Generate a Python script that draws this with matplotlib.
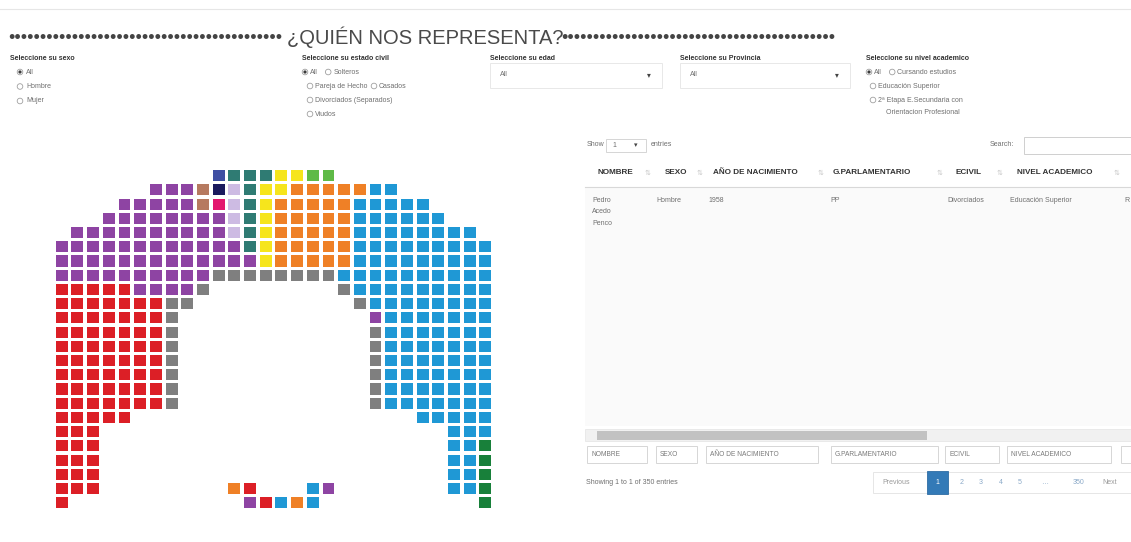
import matplotlib
matplotlib.use("Agg")
import matplotlib.pyplot as plt
from matplotlib.patches import Rectangle, Circle

plt.rcParams['font.family'] = ['Liberation Sans', 'DejaVu Sans']

# seat map of the chamber, one string per row, one char per seat ('.' = no seat)
seat_rows = [
    "..........ITTTYYGG..........",
    "......PPPMNLTYYOOOOOBB......",
    "....PPPPPMKLTYOOOOOBBBBB....",
    "...PPPPPPPPLTYOOOOOBBBBBB...",
    ".PPPPPPPPPPLTYOOOOOBBBBBBBB.",
    "PPPPPPPPPPPPTYOOOOOBBBBBBBBB",
    "PPPPPPPPPPPPPYOOOOOBBBBBBBBB",
    "PPPPPPPPPPXXXXXXXXBBBBBBBBBB",
    "RRRRRPPPPX........XBBBBBBBBB",
    "RRRRRRRXX..........XBBBBBBBB",
    "RRRRRRRX............PBBBBBBB",
    "RRRRRRRX............XBBBBBBB",
    "RRRRRRRX............XBBBBBBB",
    "RRRRRRRX............XBBBBBBB",
    "RRRRRRRX............XBBBBBBB",
    "RRRRRRRX............XBBBBBBB",
    "RRRRRRRX............XBBBBBBB",
    "RRRRR..................BBBBB",
    "RRR......................BBB",
    "RRR......................BBV",
    "RRR......................BBV",
    "RRR......................BBV",
    "RRR........OR...BP.......BBV",
    "R...........PRBOB..........V",
]

party_colors = {
    'B': '#1f98d5',  # PP
    'R': '#dc1f26',  # PSOE
    'P': '#8e44a3',  # Podemos
    'L': '#cdbbe3',
    'M': '#b67a60',
    'O': '#ef8026',  # Cs
    'Y': '#f6e51c',  # ERC
    'T': '#2f7b73',  # CDC
    'G': '#5fba47',
    'V': '#18803a',  # PNV
    'N': '#1b1a5e',
    'K': '#e3176e',
    'I': '#3f4fa3',
    'X': '#7f7f7f',
}

title = "¿QUIÉN NOS REPRESENTA?"
sexo_opts = ["All", "Hombre", "Mujer"]
civil_opts = [["All", "Solteros"], ["Pareja de Hecho", "Casados"],
              ["Divorciados (Separados)"], ["Viudos"]]
nivel_opts = [["All", "Cursando estudios"], ["Educación Superior"],
              ["2ª Etapa E.Secundaria con"]]
headers = ["NOMBRE", "SEXO", "AÑO DE NACIMIENTO", "G.PARLAMENTARIO", "ECIVIL", "NIVEL ACADEMICO"]
header_x = [597, 665, 713, 833, 955, 1017]
sort_x = [645, 697, 818, 937, 997, 1114]
row_values = ["Pedro\nAcedo\nPenco", "Hombre", "1958", "PP", "Divorciados", "Educación Superior", "R"]
row_x = [592, 656, 708, 830, 947, 1010, 1124]
pages = ["2", "3", "4", "5", "…", "350"]
page_x = [962, 981, 1001, 1020, 1045, 1079]

W, H = 1131, 542
fig = plt.figure(figsize=(W / 100, H / 100), dpi=100)
ui = fig.add_axes([0, 0, 1, 1])
ui.set_xlim(0, W)
ui.set_ylim(H, 0)
ui.axis('off')

DARK = '#333333'
GREY = '#6f6f6f'


def txt(x, y, s, size=5.0, color=GREY, weight='normal', ha='left', **kw):
    ui.text(x, y, s, fontsize=size, color=color, fontweight=weight,
            ha=ha, va='center', **kw)


def radio(x, y, on=False):
    ui.add_patch(Circle((x, y), 2.8, fc='white', ec='#a0a0a0', lw=0.6))
    if on:
        ui.add_patch(Circle((x, y), 1.6, fc='#3a3a3a', ec='none'))


def box(x0, y0, w, h, ec='#dcdcdc', fc='white', lw=0.7):
    ui.add_patch(Rectangle((x0, y0), w, h, fc=fc, ec=ec, lw=lw))


# top rule + title
ui.plot([0, W], [9, 9], color='#e6e6e6', lw=0.8)
txt(425, 37, title, size=14.5, color='#4a4a4a', ha='center')
txt(282, 38.5, "•" * 43, size=13, color='#444444', ha='right')
txt(561, 38.5, "•" * 43, size=13, color='#444444', ha='left')

# filters
for x, s in [(10, "Seleccione su sexo"), (302, "Seleccione su estado civil"),
             (490, "Seleccione su edad"), (680, "Seleccione su Provincia"),
             (866, "Seleccione su nivel academico")]:
    txt(x, 58, s, size=5.0, color=DARK, weight='bold')

for i, s in enumerate(sexo_opts):
    y = 72 + 14.5 * i
    radio(20, y, on=(i == 0))
    txt(26, y, s)


def radio_block(x0, opts, indent):
    for i, row in enumerate(opts):
        y = 72 + 14 * i
        x = x0 if i == 0 else x0 + indent
        for j, s in enumerate(row):
            radio(x, y, on=(i == 0 and j == 0))
            txt(x + 5, y, s)
            x += 5 + len(s) * 3.4 + 8


radio_block(305, civil_opts, 5)
radio_block(869, nivel_opts, 4)
txt(886, 113, "Orientacion Profesional")

for x0, w in [(490, 172), (680, 170)]:
    box(x0, 63, w, 25, ec='#e8e8e8')
    txt(x0 + 10, 75, "All")
    txt(x0 + w - 13, 76, "▾", size=5.5, color='#444444', ha='center')

# table controls
txt(587, 145, "Show")
box(606, 139, 40, 13, ec='#d5d5d5')
txt(612, 145.5, "1")
txt(636, 145.5, "▾", size=5, color='#444444', ha='center')
txt(651, 145, "entries")
txt(990, 145, "Search:")
box(1024, 137, 120, 17, ec='#cfcfcf')

# header
for x, xs, s in zip(header_x, sort_x, headers):
    txt(x, 173, s, size=5.9, color=DARK, weight='bold')
    ui.text(xs, 173, "⇅", fontsize=5, color='#c8c8c8',
            ha='left', va='center', family='DejaVu Sans')
ui.plot([585, W], [187, 187], color='#d8d8d8', lw=0.8)
ui.add_patch(Rectangle((585, 188), W - 585, 238, fc='#fafafa', ec='none'))
for x, s in zip(row_x, row_values):
    ui.text(x, 196.5, s, fontsize=5.0, color=GREY, ha='left', va='top',
            linespacing=1.95)

# scrollbar
ui.add_patch(Rectangle((585, 429), W - 585, 12, fc='#f1f1f1', ec='#e4e4e4', lw=0.5))
ui.add_patch(Rectangle((597, 430.5), 330, 9, fc='#c2c2c2', ec='none'))

# footer search inputs
for (x0, x1), s in zip([(587, 647), (656, 697), (706, 818), (831, 938), (945, 999), (1007, 1111)],
                       headers):
    box(x0, 446, x1 - x0, 17, ec='#d6d6d6')
    txt(x0 + 4, 454.5, s, size=4.8, color='#7a7a7a')
box(1121, 446, 20, 17, ec='#d6d6d6')

# info + pagination
txt(586, 482, "Showing 1 to 1 of 350 entries")
box(873, 472, 270, 21, ec='#e6e6e6')
txt(882, 482.5, "Previous", color='#9a9a9a')
ui.add_patch(Rectangle((927, 471), 21, 23, fc='#337ab7', ec='#2e6da4', lw=0.6))
txt(937.5, 482.5, "1", color='white', ha='center')
for x, s in zip(page_x, pages):
    txt(x, 482.5, s, color='#8aa9c8', ha='center')
txt(1102, 482.5, "Next", color='#9a9a9a')

# seat chart: column/row indices in data space
ncols, nrows = len(seat_rows[0]), len(seat_rows)
x_left, x_right = 53.9, 493.2
y_top, y_bot = 168.6, 509.9
ax = fig.add_axes([x_left / W, 1 - y_bot / H, (x_right - x_left) / W, (y_bot - y_top) / H])
ax.set_xlim(-0.5, ncols - 0.5)
ax.set_ylim(nrows - 0.5, -0.5)
ax.axis('off')
sw, sh = 0.76, 0.78
for r, row in enumerate(seat_rows):
    for c, code in enumerate(row):
        if code == '.':
            continue
        ax.add_patch(Rectangle((c - sw / 2, r - sh / 2), sw, sh,
                               fc=party_colors[code], ec='none'))

fig.savefig("out.png", dpi=100)
